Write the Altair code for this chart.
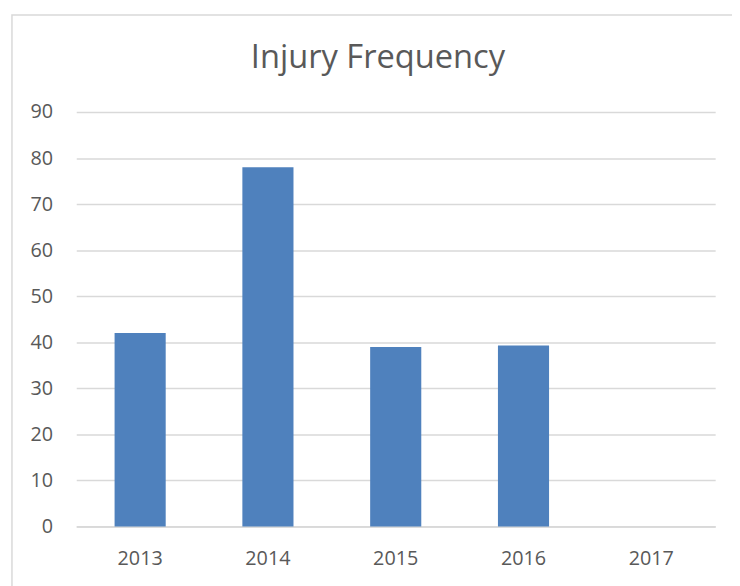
import altair as alt
import pandas as pd

title_text = "Injury Frequency"
years = ["2013", "2014", "2015", "2016", "2017"]
injuries = [42, 78, 39, 39.3, 0]
y_ticks = [0, 10, 20, 30, 40, 50, 60, 70, 80, 90]

df = pd.DataFrame({"year": years, "injuries": injuries})

FONT = "Open Sans"
GREY = "#595959"
GRID = "#d9d9d9"

bars = alt.Chart(df).mark_bar(color="#4f81bd").encode(
    x=alt.X("year:N", sort=years,
            scale=alt.Scale(paddingInner=0.6, paddingOuter=0.3),
            axis=alt.Axis(title=None, labelAngle=0, ticks=False, labelPadding=22,
                          labelFontSize=20, labelColor=GREY, labelFont=FONT,
                          domainColor=GRID, domainWidth=1.8, grid=False)),
    y=alt.Y("injuries:Q", scale=alt.Scale(domain=[0, 90], nice=False),
            axis=alt.Axis(title=None, values=y_ticks, ticks=False, labelPadding=24,
                          labelFontSize=20, labelColor=GREY, labelFont=FONT,
                          domain=False, gridColor=GRID, gridWidth=1.5)),
)

frame = alt.Chart(alt.Data(values=[{"k": 0}])).mark_rect(
    fill=None, stroke=GRID, strokeWidth=1.5
).encode(
    x=alt.value(-65), x2=alt.value(1200),
    y=alt.value(-98), y2=alt.value(1200),
)

title = alt.Chart(alt.Data(values=[{"t": title_text}])).mark_text(
    font=FONT, fontSize=33, color=GREY, align="center", baseline="middle"
).encode(
    text="t:N", x=alt.value(305), y=alt.value(-55),
)

chart = alt.layer(frame, bars, title).properties(
    width=646,
    height=419,
    padding={"left": 69, "top": 102, "right": 17, "bottom": 57},
    autosize=alt.AutoSizeParams(type="none"),
).configure_view(stroke=None)

chart.save("out.html", embed_options={"renderer": "svg", "actions": False})
